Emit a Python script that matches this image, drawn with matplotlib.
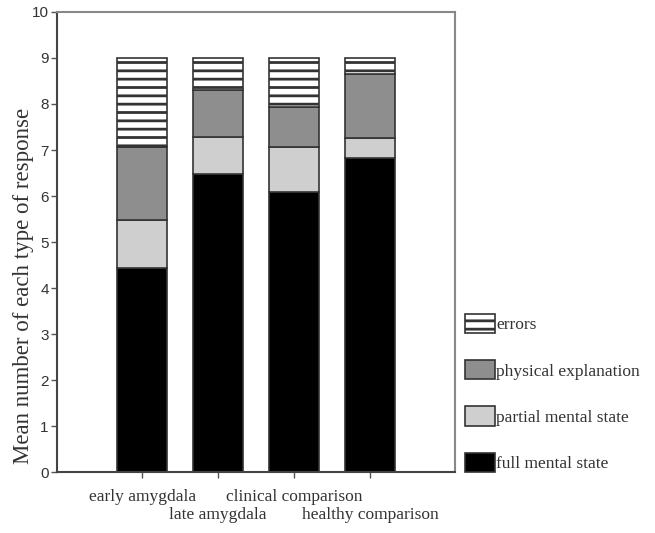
import matplotlib
matplotlib.use("Agg")
import matplotlib.pyplot as plt
import numpy as np

categories = ["early amygdala", "late amygdala", "clinical comparison", "healthy comparison"]
full_mental = [4.43, 6.47, 6.08, 6.82]
partial_mental = [1.05, 0.81, 0.99, 0.45]
physical_expl = [1.59, 1.02, 0.86, 1.38]
errors = [1.93, 0.70, 1.07, 0.35]
series_labels = ["full mental state", "partial mental state", "physical explanation", "errors"]
yticks = list(range(0, 11))

plt.rcParams['hatch.linewidth'] = 2.0
plt.rcParams['hatch.color'] = '#222222'

fig = plt.figure(figsize=(6.55, 5.33), dpi=100)
ax = fig.add_axes([0.087, 0.1144, 0.608, 0.8631])

x = np.arange(1, len(categories) + 1)
w = 0.66
series = [full_mental, partial_mental, physical_expl, errors]
faces = ["#000000", "#cfcfcf", "#8e8e8e", "#ffffff"]
hatches = [None, None, None, "--"]
bottom = np.zeros(len(categories))
handles = []
for vals, fc, h, lab in zip(series, faces, hatches, series_labels):
    b = ax.bar(x, vals, w, bottom=bottom, color=fc, edgecolor="#333333",
               linewidth=1.2, hatch=h, label=lab)
    handles.append(b)
    bottom += np.array(vals)

ax.set_xlim(-0.12, 5.12)
ax.set_ylim(0, 10)
ax.set_yticks(yticks)
ax.set_yticklabels([str(t) for t in yticks], family="Liberation Sans", fontsize=11, color="#333333")
ax.set_xticks(x)
ax.set_xticklabels(categories, family="Liberation Serif", fontsize=12.5, color="#333333")
ax.tick_params(axis="both", direction="out", length=4, width=1, color="#555555", pad=2)
ax.tick_params(axis="x", pad=8)
for i, tick in enumerate(ax.xaxis.get_major_ticks()):
    if i % 2 == 1:
        tick.set_pad(21)
for s in ["left", "bottom"]:
    ax.spines[s].set_color("#444444")
    ax.spines[s].set_linewidth(1.5)
for s in ["top", "right"]:
    ax.spines[s].set_color("#888888")
    ax.spines[s].set_linewidth(1.5)

ax.set_ylabel("Mean number of each type of response", family="Liberation Serif",
              fontsize=16.5, color="#333333")
ax.yaxis.set_label_coords(-0.058, 0.404)

leg = fig.legend(handles[::-1], series_labels[::-1], loc="upper left",
                 bbox_to_anchor=(0.697, 0.428), frameon=False, borderpad=0,
                 prop={"family": "Liberation Serif", "size": 12.5},
                 handlelength=1.7, handleheight=1.35, handletextpad=0.1,
                 labelspacing=1.55, labelcolor="#333333")

fig.savefig("out.png", dpi=100)
